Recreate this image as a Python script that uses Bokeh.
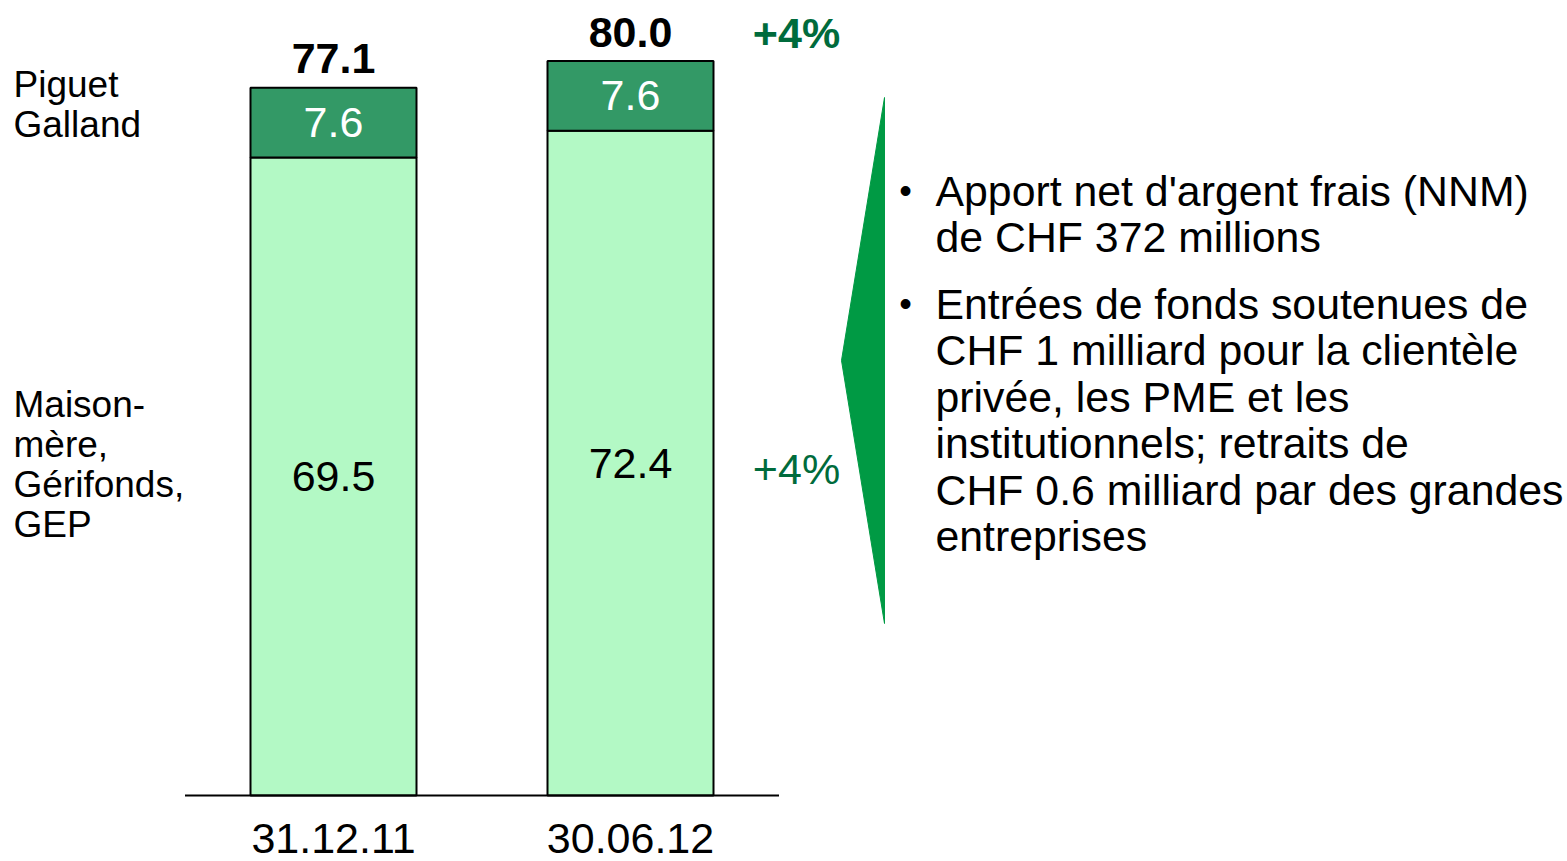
from bokeh.plotting import figure
from bokeh.models import Range1d
from bokeh.core.properties import value
from bokeh.embed import file_html
from bokeh.resources import INLINE

# ---- data ----
categories = ["31.12.11", "30.06.12"]
maison_mere = [69.5, 72.4]
piguet_galland = [7.6, 7.6]
totals = [77.1, 80.0]
growth_total = "+4%"
growth_maison = "+4%"
pg_label = ["Piguet", "Galland"]
mm_label = ["Maison-", "mère,", "Gérifonds,", "GEP"]
bullet1 = ["Apport net d'argent frais (NNM)", "de CHF 372 millions"]
bullet2 = ["Entrées de fonds soutenues de", "CHF 1 milliard pour la clientèle",
           "privée, les PME et les", "institutionnels; retraits de",
           "CHF 0.6 milliard par des grandes", "entreprises"]

FONT = value("Liberation Sans")
LIGHT = "#B3F9C5"
DARK = "#339966"
GREEN_TXT = "#006B3C"
TRI = "#009A44"

W, H = 1567, 861
K = 9.18          # px per unit
XS = 297.0        # px per category step
X0, X1 = (0 - 333) / XS, (W - 333) / XS
Y0, Y1 = -(H - 795) / K, 795 / K

def dx(px):
    return X0 + px / W * (X1 - X0)

def dy(py):
    return Y1 - py / H * (Y1 - Y0)

p = figure(width=W, height=H, output_backend="svg", toolbar_location=None,
           x_range=Range1d(X0, X1), y_range=Range1d(Y0, Y1),
           x_axis_location=None, y_axis_location=None, min_border=0,
           outline_line_color=None)
p.grid.visible = False

xs = list(range(len(categories)))
bw = 166 / XS

p.vbar(x=xs, bottom=0, top=maison_mere, width=bw, fill_color=LIGHT,
       line_color="black", line_width=2)
p.vbar(x=xs, bottom=maison_mere, top=totals, width=bw, fill_color=DARK,
       line_color="black", line_width=2)

# baseline
p.segment(x0=[-0.5], y0=[0], x1=[1.5], y1=[0], line_color="black", line_width=2)

# value labels
mid_mm = [v / 2 for v in maison_mere]
mid_pg = [m + v / 2 for m, v in zip(maison_mere, piguet_galland)]
p.text(x=xs, y=mid_mm, text=[f"{v:.1f}" for v in maison_mere], text_font=FONT,
       text_font_size="43px", text_align="center", text_baseline="middle",
       text_color="black")
p.text(x=xs, y=mid_pg, text=[f"{v:.1f}" for v in piguet_galland], text_font=FONT,
       text_font_size="43px", text_align="center", text_baseline="middle",
       text_color="white")
p.text(x=xs, y=[t + 29 / K for t in totals], text=[f"{v:.1f}" for v in totals],
       text_font=FONT, text_font_size="43px", text_font_style="bold",
       text_align="center", text_baseline="middle", text_color="black")

# category labels
p.text(x=xs, y=[dy(838)] * len(xs), text=categories, text_font=FONT,
       text_font_size="43px", text_align="center", text_baseline="middle",
       text_color="black")

# growth labels
p.text(x=[dx(796)], y=[dy(32)], text=[growth_total], text_font=FONT,
       text_font_size="43px", text_font_style="bold", text_align="center",
       text_baseline="middle", text_color=GREEN_TXT)
p.text(x=[dx(796)], y=[dy(468)], text=[growth_maison], text_font=FONT,
       text_font_size="43px", text_align="center",
       text_baseline="middle", text_color=GREEN_TXT)

# series labels on the left
p.text(x=[dx(13)] * len(pg_label), y=[dy(84 + 40 * i) for i in range(len(pg_label))],
       text=pg_label, text_font=FONT, text_font_size="37px", text_align="left",
       text_baseline="middle", text_color="black")
p.text(x=[dx(13)] * len(mm_label), y=[dy(404 + 40 * i) for i in range(len(mm_label))],
       text=mm_label, text_font=FONT, text_font_size="37px", text_align="left",
       text_baseline="middle", text_color="black")

# triangle bracket
p.patch(x=[dx(884), dx(884), dx(841)], y=[dy(97), dy(623), dy(360)],
        fill_color=TRI, line_color=TRI, line_width=1)

# bullets
LS = 46.5
b1_y = [190 + LS * i for i in range(len(bullet1))]
b2_y = [303 + LS * i for i in range(len(bullet2))]
p.text(x=[dx(935)] * len(bullet1), y=[dy(v) for v in b1_y], text=bullet1,
       text_font=FONT, text_font_size="42.8px", text_align="left",
       text_baseline="middle", text_color="black")
p.text(x=[dx(935)] * len(bullet2), y=[dy(v) for v in b2_y], text=bullet2,
       text_font=FONT, text_font_size="42.8px", text_align="left",
       text_baseline="middle", text_color="black")
p.text(x=[dx(905)] * 2, y=[dy(b1_y[0]), dy(b2_y[0])], text=["•", "•"],
       text_font=FONT, text_font_size="36px", text_align="center",
       text_baseline="middle", text_color="black")

open("out.html", "w").write(file_html(p, INLINE))
